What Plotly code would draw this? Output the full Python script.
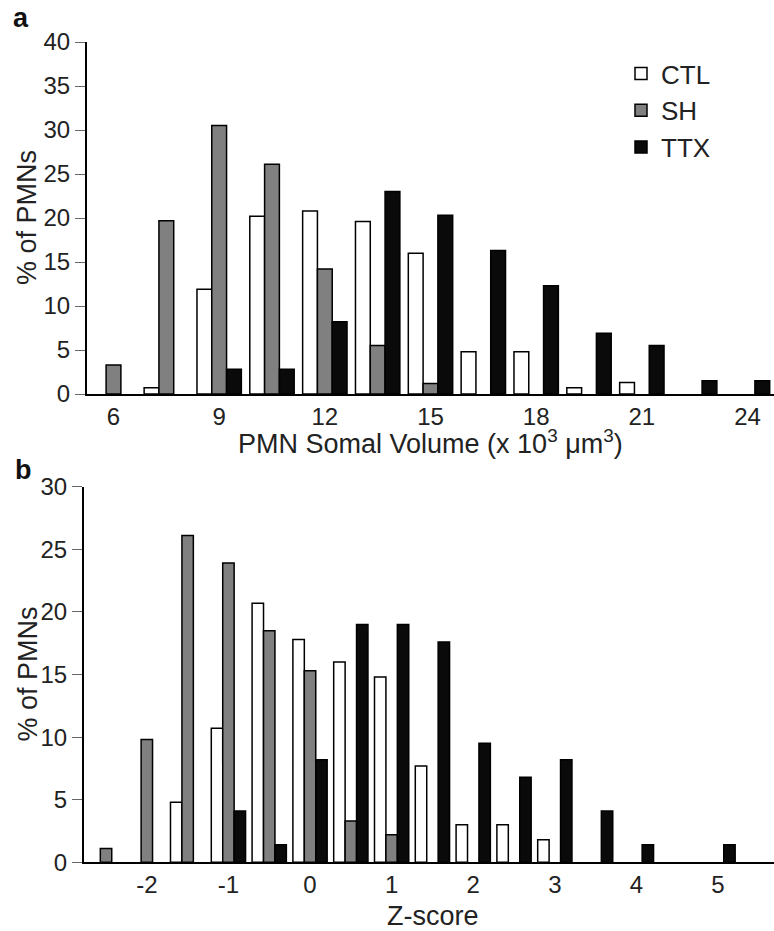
import plotly.graph_objects as go

# ---- data ----
series_names = ["CTL", "SH", "TTX"]

vol_bins = [6, 7.5, 9, 10.5, 12, 13.5, 15, 16.5, 18, 19.5, 21, 22.5, 24]
vol_ctl = [0, 0.7, 11.9, 20.2, 20.8, 19.6, 16.0, 4.8, 4.8, 0.7, 1.3, 0, 0]
vol_sh = [3.3, 19.7, 30.5, 26.1, 14.2, 5.5, 1.2, 0, 0, 0, 0, 0, 0]
vol_ttx = [0, 0, 2.8, 2.8, 8.2, 23.0, 20.3, 16.3, 12.3, 6.9, 5.5, 1.5, 1.5]
vol_ticks = [6, 9, 12, 15, 18, 21, 24]

z_bins = [-2.5, -2, -1.5, -1, -0.5, 0, 0.5, 1, 1.5, 2, 2.5, 3, 3.5, 4, 4.5, 5]
z_ctl = [0, 0, 4.8, 10.7, 20.7, 17.8, 16.0, 14.8, 7.7, 3.0, 3.0, 1.8, 0, 0, 0, 0]
z_sh = [1.1, 9.8, 26.1, 23.9, 18.5, 15.3, 3.3, 2.2, 0, 0, 0, 0, 0, 0, 0, 0]
z_ttx = [0, 0, 0, 4.1, 1.4, 8.2, 19.0, 19.0, 17.6, 9.5, 6.8, 8.2, 4.1, 1.4, 0, 1.4]
z_ticks = [-2, -1, 0, 1, 2, 3, 4, 5]
z_ticklabels = [str(v) for v in z_ticks]

colors = {"CTL": "#ffffff", "SH": "#808080", "TTX": "#0a0a0a"}

FONT = "Liberation Sans, Arial, sans-serif"
W, H = 774, 931

fig = go.Figure()

def nonempty(vals):
    # empty bins are not drawn at all (no outline stub on the axis)
    return [v if v > 0 else None for v in vals]

for name, vals in zip(series_names, [vol_ctl, vol_sh, vol_ttx]):
    fig.add_trace(go.Bar(
        x=vol_bins, y=nonempty(vals), name=name, xaxis="x", yaxis="y",
        marker=dict(color=colors[name], line=dict(color="#000000", width=1.5)),
        legendgroup=name, showlegend=True, offsetgroup=name,
    ))
for name, vals in zip(series_names, [z_ctl, z_sh, z_ttx]):
    fig.add_trace(go.Bar(
        x=z_bins, y=nonempty(vals), name=name, xaxis="x2", yaxis="y2",
        marker=dict(color=colors[name], line=dict(color="#000000", width=1.5)),
        legendgroup=name, showlegend=False, offsetgroup=name,
    ))

def px_x(p):
    return p / W

def px_y(p):
    return 1 - p / H

axis_common = dict(
    showgrid=False, zeroline=False, showline=True, linecolor="#000000",
    linewidth=2, automargin=False,
    tickfont=dict(family=FONT, size=24, color="#222222"),
)

def ann(text, x, y, size=27, angle=0, color="#222222"):
    return dict(text=text, x=px_x(x), y=px_y(y), xref="paper", yref="paper",
                xanchor="center", yanchor="middle", textangle=angle,
                showarrow=False, font=dict(family=FONT, size=size, color=color))

fig.update_layout(
    width=W, height=H,
    margin=dict(l=0, r=0, t=0, b=0),
    paper_bgcolor="#ffffff", plot_bgcolor="#ffffff",
    barmode="group", bargap=0.16, bargroupgap=0,
    font=dict(family=FONT, color="#222222"),
    xaxis=dict(domain=[px_x(87), 1], range=[5.248, 24.752], anchor="y",
               tickmode="array", tickvals=vol_ticks, ticks="", **axis_common),
    yaxis=dict(domain=[px_y(394), px_y(42)], range=[0, 40], anchor="x",
               tickmode="array", tickvals=list(range(0, 41, 5)),
               ticks="outside", ticklen=10, tickwidth=1, tickcolor="#666666", **axis_common),
    xaxis2=dict(domain=[px_x(84), 1], range=[-2.77, 5.686], anchor="y2",
                tickmode="array", tickvals=z_ticks, ticktext=z_ticklabels,
                ticks="", **axis_common),
    yaxis2=dict(domain=[px_y(862.3), px_y(486.7)], range=[0, 30], anchor="x2",
                tickmode="array", tickvals=list(range(0, 31, 5)),
                ticks="outside", ticklen=10, tickwidth=1, tickcolor="#666666", **axis_common),
    legend=dict(
        x=px_x(621), y=px_y(50), xanchor="left", yanchor="top",
        font=dict(family=FONT, size=26, color="#222222"),
        bgcolor="rgba(0,0,0,0)", borderwidth=0, tracegroupgap=3,
        traceorder="normal",
    ),
    annotations=[
        ann("<b>a</b>", 21, 18, size=27, color="#111111"),
        ann("<b>b</b>", 23, 470, size=27, color="#111111"),
        ann("% of PMNs", 27, 218, angle=-90),
        ann("% of PMNs", 27, 674.5, angle=-90),
        ann("PMN Somal Volume (x 10<sup>3</sup> μm<sup>3</sup>)", 431, 442),
        ann("Z-score", 433, 916),
    ],
)

fig.write_html("out.html", config={"displayModeBar": False},
               post_script="document.body.style.margin='0';")
